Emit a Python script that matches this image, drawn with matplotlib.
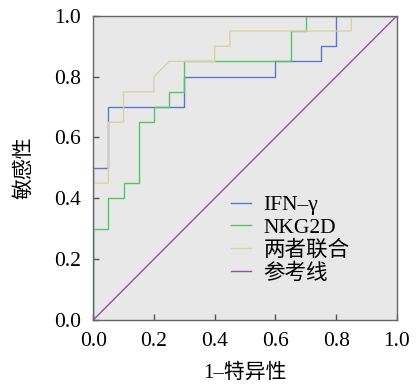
import matplotlib
matplotlib.use("Agg")
import matplotlib.pyplot as plt

plt.rcParams["font.family"] = ["Liberation Serif", "Noto Sans CJK SC", "DejaVu Sans"]

# ROC curve vertices (1-specificity, sensitivity)
ifn_fpr = [0, 0, 0.05, 0.05, 0.30, 0.30, 0.60, 0.60, 0.75, 0.75, 0.80, 0.80, 1.0]
ifn_tpr = [0, 0.50, 0.50, 0.70, 0.70, 0.80, 0.80, 0.85, 0.85, 0.90, 0.90, 1.0, 1.0]

nkg_fpr = [0, 0, 0.05, 0.05, 0.10, 0.10, 0.15, 0.15, 0.20, 0.20, 0.25, 0.25,
           0.30, 0.30, 0.65, 0.65, 0.70, 0.70, 1.0]
nkg_tpr = [0, 0.30, 0.30, 0.40, 0.40, 0.45, 0.45, 0.65, 0.65, 0.70, 0.70, 0.75,
           0.75, 0.85, 0.85, 0.95, 0.95, 1.0, 1.0]

comb_fpr = [0, 0, 0.05, 0.05, 0.10, 0.10, 0.20, 0.20, 0.25, 0.40, 0.40, 0.45,
            0.45, 0.85, 0.85, 1.0]
comb_tpr = [0, 0.45, 0.45, 0.65, 0.65, 0.75, 0.75, 0.80, 0.85, 0.85, 0.90, 0.90,
            0.95, 0.95, 1.0, 1.0]

ref_x = [0, 1]
ref_y = [0, 1]

ticks = [0.0, 0.2, 0.4, 0.6, 0.8, 1.0]
tick_labels = ["0.0", "0.2", "0.4", "0.6", "0.8", "1.0"]

fig = plt.figure(figsize=(4.16, 3.86), dpi=100)
ax = fig.add_axes([0.224, 0.171, 0.73, 0.788])
ax.set_facecolor("#e8e8e8")

lw = 1.0
ax.plot(ifn_fpr, ifn_tpr, color="#5a78c8", lw=lw, label="IFN–γ")
ax.plot(nkg_fpr, nkg_tpr, color="#58c46a", lw=lw, label="NKG2D")
ax.plot(comb_fpr, comb_tpr, color="#d8d2a6", lw=lw, label="两者联合")
ax.plot(ref_x, ref_y, color="#9a4fa6", lw=lw, label="参考线")

ax.set_xlim(0, 1)
ax.set_ylim(0, 1)
ax.set_xticks(ticks)
ax.set_xticklabels(tick_labels)
ax.set_yticks(ticks)
ax.set_yticklabels(tick_labels)
ax.tick_params(direction="in", length=4, width=1, labelsize=15.5, color="#555555",
               top=False, right=False)
ax.tick_params(axis="x", pad=9)
ax.tick_params(axis="y", pad=9)
for s in ax.spines.values():
    s.set_color("#666666")
    s.set_linewidth(1.0)

ax.set_xlabel("1–特异性", fontsize=15, labelpad=9)
ax.set_ylabel("敏感性", fontsize=15, labelpad=14)

ax.legend(loc="upper left", bbox_to_anchor=(0.455, 0.41), frameon=False,
          fontsize=15.5, handlelength=0.9, handletextpad=0.6,
          labelspacing=0.12, borderaxespad=0, borderpad=0)

fig.savefig("out.png", dpi=100)
